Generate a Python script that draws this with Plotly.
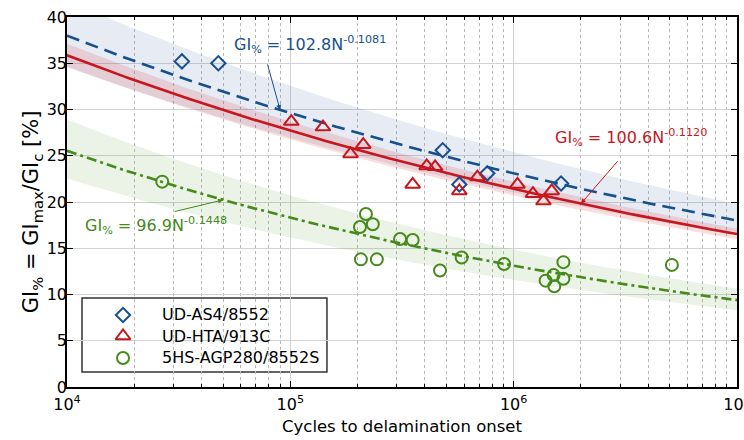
import numpy as np
import plotly.graph_objects as go

# ---- measured data: cycles to delamination onset vs GI% ----
n_as4 = [3.27e4, 4.76e4, 4.81e5, 5.71e5, 7.62e5, 1.63e6]
gi_as4 = [35.2, 35.0, 25.6, 21.9, 23.1, 22.0]

n_hta = [1.01e5, 1.40e5, 1.86e5, 2.12e5, 3.53e5, 4.08e5, 4.45e5,
         5.71e5, 6.88e5, 1.04e6, 1.22e6, 1.36e6, 1.48e6]
gi_hta = [28.7, 28.1, 25.2, 26.2, 21.9, 23.9, 23.8,
          21.2, 22.7, 21.9, 20.9, 20.1, 21.2]

n_agp = [2.67e4, 2.18e5, 2.05e5, 2.34e5, 2.07e5, 2.44e5, 3.10e5, 3.53e5,
         4.68e5, 5.85e5, 9.06e5, 1.39e6, 1.51e6, 1.52e6, 1.67e6, 1.67e6, 5.11e6]
gi_agp = [22.2, 18.7, 17.3, 17.6, 13.8, 13.8, 16.0, 15.9,
          12.6, 14.0, 13.3, 11.5, 12.1, 10.9, 11.7, 13.5, 13.2]

# power-law fits GI% = A * N^b and log10 half-width of the scatter band
fit_as4 = (102.8, -0.1081)
fit_hta = (100.6, -0.1120)
fit_agp = (96.9, -0.1448)
band_as4 = 0.041
band_hta = 0.015
band_agp = 0.054

names = ["UD-AS4/8552", "UD-HTA/913C", "5HS-AGP280/8552S"]

x_ticks = [1e4, 1e5, 1e6, 1e7]
x_ticktext = ["10<sup>4</sup>", "10<sup>5</sup>", "10<sup>6</sup>", "10<sup>7</sup>"]
x_minor = [m * 10 ** e for e in (4, 5, 6) for m in range(2, 10)]
y_ticks = list(range(0, 41, 5))

BLUE = "#17508C"
RED = "#C8161E"
GREEN = "#458A1B"
FONT = "DejaVu Sans"

n_curve = np.logspace(4, 7, 300)


def power(fit, n):
    a, b = fit
    return a * np.asarray(n, dtype=float) ** b


marker_styles = [
    dict(symbol="diamond-open", size=11, color=BLUE, line=dict(width=2, color=BLUE)),
    dict(symbol="triangle-up-open", size=13, color=RED, line=dict(width=2, color=RED)),
    dict(symbol="circle-open", size=12, color=GREEN, line=dict(width=2, color=GREEN)),
]

fig = go.Figure()

# scatter bands around each fit
for fit, hw, fill in [
    (fit_as4, band_as4, "rgba(60,100,170,0.13)"),
    (fit_hta, band_hta, "rgba(215,50,50,0.16)"),
    (fit_agp, band_agp, "rgba(100,160,60,0.13)"),
]:
    y_mid = power(fit, n_curve)
    upper = y_mid * 10 ** hw
    lower = y_mid / 10 ** hw
    fig.add_trace(go.Scatter(
        x=np.concatenate([n_curve, n_curve[::-1]]),
        y=np.concatenate([upper, lower[::-1]]),
        fill="toself", fillcolor=fill, line=dict(width=0),
        mode="lines", hoverinfo="skip", showlegend=False))

# fitted curves
fig.add_trace(go.Scatter(x=n_curve, y=power(fit_as4, n_curve), mode="lines",
                         line=dict(color=BLUE, width=2.6, dash="13px,7px"),
                         showlegend=False))
fig.add_trace(go.Scatter(x=n_curve, y=power(fit_hta, n_curve), mode="lines",
                         line=dict(color=RED, width=2.6), showlegend=False))
fig.add_trace(go.Scatter(x=n_curve, y=power(fit_agp, n_curve), mode="lines",
                         line=dict(color=GREEN, width=2.6, dash="10px,4px,3px,4px"),
                         showlegend=False))

# test points
for xs, ys, name, mk in zip([n_as4, n_hta, n_agp], [gi_as4, gi_hta, gi_agp],
                            names, marker_styles):
    fig.add_trace(go.Scatter(x=xs, y=ys, mode="markers", name=name, marker=mk,
                             showlegend=False))

# legend box: frame, symbols on an overlay unit axis, and labels
leg_x0, leg_x1, leg_y0, leg_y1 = 0.0224, 0.388, 0.0405, 0.2405
leg_sym_x, leg_txt_x = 0.0836, 0.1388
leg_rows = [0.1946, 0.1378, 0.0784]
fig.add_shape(type="rect", xref="paper", yref="paper", x0=leg_x0, x1=leg_x1,
              y0=leg_y0, y1=leg_y1, line=dict(color="#333333", width=1.5),
              fillcolor="white", layer="between")
for row_y, name, mk in zip(leg_rows, names, marker_styles):
    fig.add_trace(go.Scatter(x=[leg_sym_x], y=[row_y], mode="markers", marker=mk,
                             xaxis="x2", yaxis="y2", showlegend=False,
                             hoverinfo="skip"))
    fig.add_annotation(xref="paper", yref="paper", x=leg_txt_x, y=row_y, text=name,
                       showarrow=False, xanchor="left", yanchor="middle",
                       font=dict(family=FONT, size=16, color="black"))

# equation labels with arrows pointing at the curves
eq_font = dict(family=FONT, size=16)
arrows = [
    (9e4, fit_as4, -13, -47, BLUE),
    (2e6, fit_hta, 38, -44, RED),
    (5e4, fit_agp, -50, 12, GREEN),
]
for n_at, fit, ax, ay, col in arrows:
    fig.add_annotation(x=np.log10(n_at), y=float(power(fit, n_at)), text="",
                       showarrow=True, ax=ax, ay=ay, arrowhead=2, arrowsize=1,
                       arrowwidth=1, arrowcolor=col, standoff=0)

labels = [
    (4.739, 37.0, "GI<sub>%</sub> = 102.8N<sup>-0.1081</sup>", BLUE),
    (6.176, 27.0, "GI<sub>%</sub> = 100.6N<sup>-0.1120</sup>", RED),
    (4.072, 17.5, "GI<sub>%</sub> = 96.9N<sup>-0.1448</sup>", GREEN),
]
for lx, ly, txt, col in labels:
    fig.add_annotation(x=lx, y=ly, text=txt, showarrow=False, xanchor="left",
                       yanchor="middle", font=dict(eq_font, color=col))

# y-axis title, rotated
fig.add_annotation(xref="paper", yref="paper", x=-0.052, y=0.473,
                   text="GI<sub>%</sub> = GI<sub>max</sub>/GI<sub>c</sub> [%]",
                   textangle=-90, showarrow=False, xanchor="center", yanchor="middle",
                   font=dict(family=FONT, size=21, color="black"))

fig.update_xaxes(
    type="log", range=[4, 7], tickmode="array", tickvals=x_ticks, ticktext=x_ticktext,
    ticks="inside", ticklen=6, tickwidth=1.2, tickcolor="black",
    ticklabeloverflow="allow", ticklabelstandoff=2, automargin=False,
    showline=True, linecolor="black", linewidth=1.5, mirror="ticks",
    showgrid=True, gridcolor="#d2d2d2", gridwidth=1,
    minor=dict(tickmode="array", tickvals=x_minor, ticks="inside", ticklen=3,
               tickcolor="black", showgrid=True, gridcolor="#b8b8b8", griddash="dot",
               gridwidth=1),
    title=dict(text="Cycles to delamination onset", font=dict(family=FONT, size=16.5),
               standoff=7),
    tickfont=dict(family=FONT, size=16), zeroline=False,
)
fig.update_yaxes(
    range=[0, 40], tickmode="array", tickvals=y_ticks,
    ticks="inside", ticklen=6, tickwidth=1.2, tickcolor="black",
    ticklabelstandoff=-5, automargin=False,
    showline=True, linecolor="black", linewidth=1.5, mirror="ticks",
    showgrid=True, gridcolor="#d2d2d2", gridwidth=1.2,
    tickfont=dict(family=FONT, size=16), zeroline=False,
)

fig.update_layout(
    width=744, height=440,
    margin=dict(l=67, r=7, t=17, b=53),
    paper_bgcolor="white", plot_bgcolor="white",
    font=dict(family=FONT, size=16, color="black"),
    showlegend=False,
    xaxis2=dict(overlaying="x", range=[0, 1], visible=False, fixedrange=True),
    yaxis2=dict(overlaying="y", range=[0, 1], visible=False, fixedrange=True),
)

fig.write_html("out.html")
